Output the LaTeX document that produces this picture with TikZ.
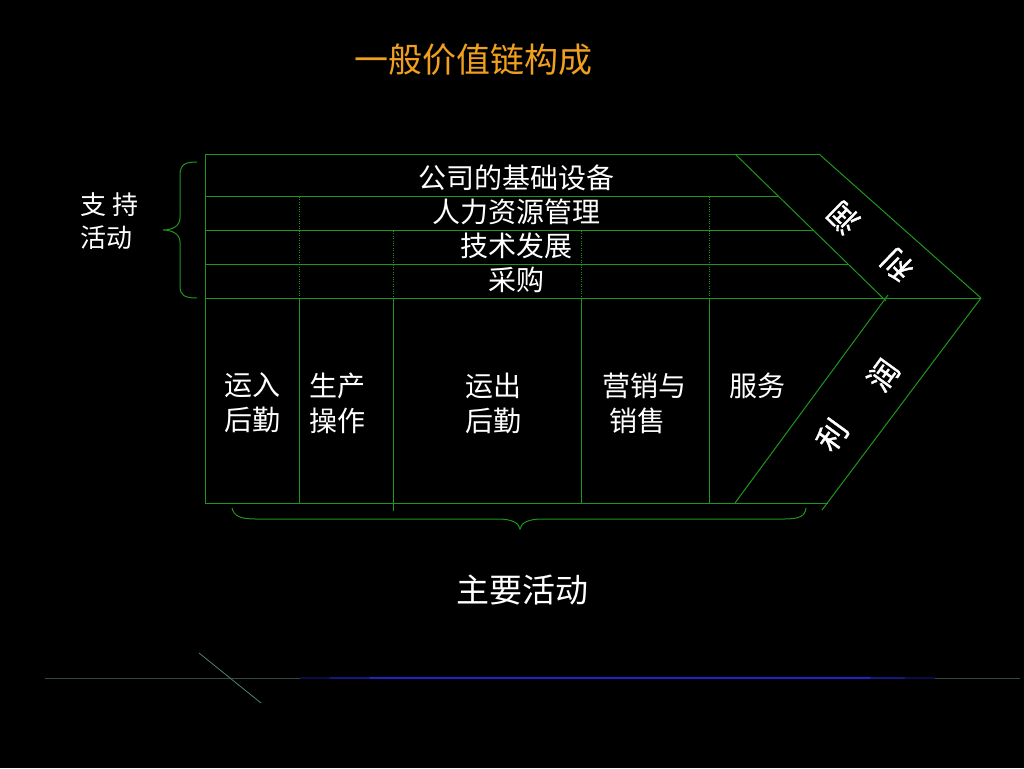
\documentclass[tikz,border=0pt]{standalone}
\usepackage{fontspec}
\newfontfamily\cjk{Noto Sans CJK SC}
\newfontfamily\cjkb[FakeBold=1.2]{Noto Sans CJK SC}
\definecolor{lg}{RGB}{30,150,30}
\definecolor{ttl}{RGB}{240,160,30}
\definecolor{dimline}{RGB}{50,75,65}
\definecolor{slash}{RGB}{80,130,115}
\definecolor{deco}{RGB}{35,35,200}
\tikzset{
  frame/.style={draw=lg, line width=1pt},
  dots/.style={draw=lg, line width=0.8pt, dash pattern=on 0.8pt off 1.6pt},
  txt/.style={text=white, font=\cjk\fontsize{28}{35}\selectfont, inner sep=0pt, align=center},
  sidetxt/.style={text=white, font=\cjk\fontsize{26}{33}\selectfont, inner sep=0pt, align=left},
  bigtxt/.style={text=white, font=\cjk\fontsize{34}{40}\selectfont, inner sep=0pt},
  bandtxt/.style={text=white, font=\cjkb\fontsize{30}{30}\selectfont, inner sep=0pt},
  brace/.style={draw=lg, line width=1pt},
  decoline/.style={line width=1.6pt}
}
\begin{document}
\begin{tikzpicture}[x=1pt,y=-1pt]
\fill[black] (0,0) rectangle (1024,768);
\useasboundingbox (0,0) rectangle (1024,768);

% title
\node[bigtxt, text=ttl] (title) at (473,60) {一般价值链构成};

% frame
\draw[frame] (205,154) -- (819,154);
\draw[frame] (205,196) -- (778,196);
\draw[frame] (205,230) -- (813,230);
\draw[frame] (205,264) -- (848,264);
\draw[frame] (205,298) -- (981,298);
\draw[frame] (205,154) -- (205,503);
\draw[frame] (205,503) -- (828,503);
\draw[frame] (735,154) -- (886,301);
\draw[frame] (819,154) -- (981,298);
\draw[frame] (888,295) -- (735,503);
\draw[frame] (981,298) -- (822,510);
\draw[frame] (299,298) -- (299,503);
\draw[frame] (393,298) -- (393,511);
\draw[frame] (581,298) -- (581,503);
\draw[frame] (709,298) -- (709,503);
\draw[dots] (299,197) -- (299,297);
\draw[dots] (709,197) -- (709,297);
\draw[dots] (393,231) -- (393,297);
\draw[dots] (581,231) -- (581,297);

% support rows
\node[txt] (r1) at (516,178) {公司的基础设备};
\node[txt] (r2) at (516,212) {人力资源管理};
\node[txt] (r3) at (516,246) {技术发展};
\node[txt] (r4) at (516,280) {采购};

% primary activities
\node[txt, align=left] (p1) at (252,403) {运入\\后勤};
\node[txt, align=left] (p2) at (337,403) {生产\\操作};
\node[txt, align=left] (p3) at (493,403) {运出\\后勤};
\node[txt, align=left] (p4) at (644,403) {营销与\\\hspace*{7pt}销售};
\node[txt] (p5) at (757,386) {服务};

% margin bands
\node[bandtxt, rotate=136] (m1) at (843,218) {润};
\node[bandtxt, rotate=136] (m2) at (897,265) {利};
\node[bandtxt, rotate=54] (m3) at (832,435) {利};
\node[bandtxt, rotate=54] (m4) at (883,375) {润};

% left brace and label
\draw[brace] (197,162) .. controls (184,162) and (180,165) .. (180,176) -- (180,218)
  .. controls (180,226) and (172,230) .. (163,230)
  .. controls (172,230) and (180,234) .. (180,242) -- (180,286)
  .. controls (180,295) and (184,298) .. (197,298);
\node[sidetxt, anchor=west] (sup) at (80,221) {支 持\\活动};

% bottom brace and label
\draw[brace] (232,508) .. controls (234,516) and (240,519) .. (256,519) -- (498,519)
  .. controls (512,519) and (519,523) .. (520,529)
  .. controls (521,523) and (528,519) .. (542,519) -- (784,519)
  .. controls (800,519) and (805,516) .. (806,508);
\node[bigtxt, font=\cjk\fontsize{33}{40}\selectfont] (main) at (522,590) {主要活动};

% decorative line
\draw[dimline, line width=0.8pt] (45,678) -- (300,678);
\draw[decoline, deco!35!black] (300,678) -- (330,678);
\draw[decoline, deco!65!black] (330,678) -- (370,678);
\draw[decoline, deco] (370,678) -- (870,678);
\draw[decoline, deco!65!black] (870,678) -- (905,678);
\draw[decoline, deco!35!black] (905,678) -- (935,678);
\draw[dimline, line width=0.8pt] (935,678) -- (1020,678);
\draw[slash, line width=0.8pt] (199,653) -- (261,703);
\end{tikzpicture}
\end{document}
